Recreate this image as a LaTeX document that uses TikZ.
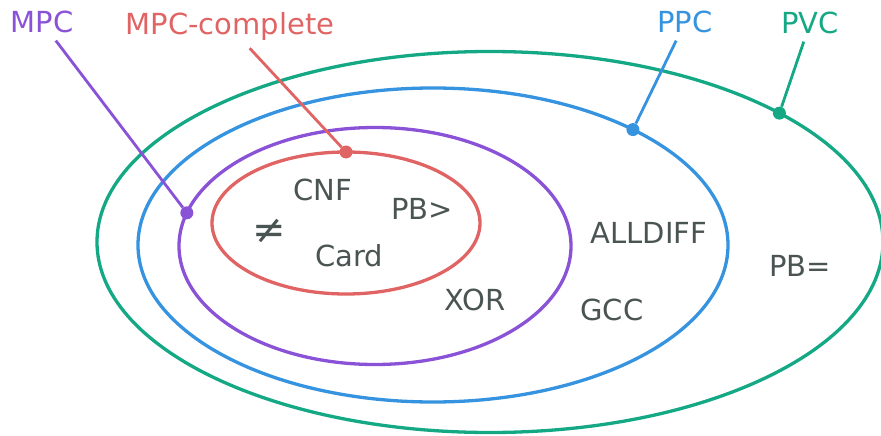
\documentclass[tikz,border=0pt]{standalone}
\usepackage{fontspec}
\setmainfont{DejaVu Sans}
\usetikzlibrary{shapes.geometric}

\definecolor{pvccol}{HTML}{14A884}
\definecolor{ppccol}{HTML}{3593DF}
\definecolor{mpccol}{HTML}{8A52D6}
\definecolor{mpcccol}{HTML}{E06464}
\definecolor{textcol}{HTML}{4A5452}

\begin{document}
\begin{tikzpicture}[x=1pt,y=-1pt,
        set/.style={ellipse, draw=#1, line width=3.3pt, inner sep=0pt, outer sep=0pt},
        dot/.style={circle, fill=#1, inner sep=0pt, minimum size=13pt},
        link/.style={draw=#1, line width=2.8pt},
        lbl/.style={anchor=base, inner sep=7pt, text=#1, font=\fontsize{29}{29}\selectfont},
        item/.style={anchor=base, text=textcol, font=\fontsize{29}{29}\selectfont}]
        \useasboundingbox (0,0) rectangle (881,436);

        % Множества
        \node[set=pvccol, minimum width=786pt, minimum height=381pt] (pvc) at (490,242) {};
        \node[set=ppccol, minimum width=590pt, minimum height=314pt] (ppc) at (433,245) {};
        \node[set=mpccol, minimum width=392pt, minimum height=237pt] (mpc) at (375,246) {};
        \node[set=mpcccol, minimum width=268pt, minimum height=142pt] (mpcc) at (346,223) {};

        % Точки на границах
        \node[dot=mpcccol] (mpccdot) at (mpcc.north) {};
        \node[dot=mpccol] (mpcdot) at (mpc.170) {};
        \node[dot=ppccol] (ppcdot) at (ppc.30) {};
        \node[dot=pvccol] (pvcdot) at (pvc.24) {};

        % Подписи классов
        \node[lbl=mpccol] (mpclbl) at (42,33) {MPC};
        \node[lbl=mpcccol] (mpcclbl) at (230,35) {MPC-complete};
        \node[lbl=ppccol] (ppclbl) at (685,33) {PPC};
        \node[lbl=pvccol] (pvclbl) at (810,34) {PVC};

        \draw[link=mpccol] (mpcdot) -- (mpclbl);
        \draw[link=mpcccol] (mpccdot) -- (mpcclbl);
        \draw[link=ppccol] (ppcdot) -- (ppclbl);
        \draw[link=pvccol] (pvcdot) -- (pvclbl);

        % Ограничения
        \foreach \name/\x/\y/\txt in {
            cnf/323/200/CNF, pbgt/422/219/PB>, card/349/266/Card,
            xor/475/310/XOR, alldiff/649/243/ALLDIFF, gcc/612/320/GCC, pbeq/800/276/PB=}
        {
            \node[item] (\name) at (\x,\y) {\txt};
        }
        \node[item, font=\fontsize{40}{40}\selectfont] (neq) at (269,243) {≠};
    \end{tikzpicture}
\end{document}
